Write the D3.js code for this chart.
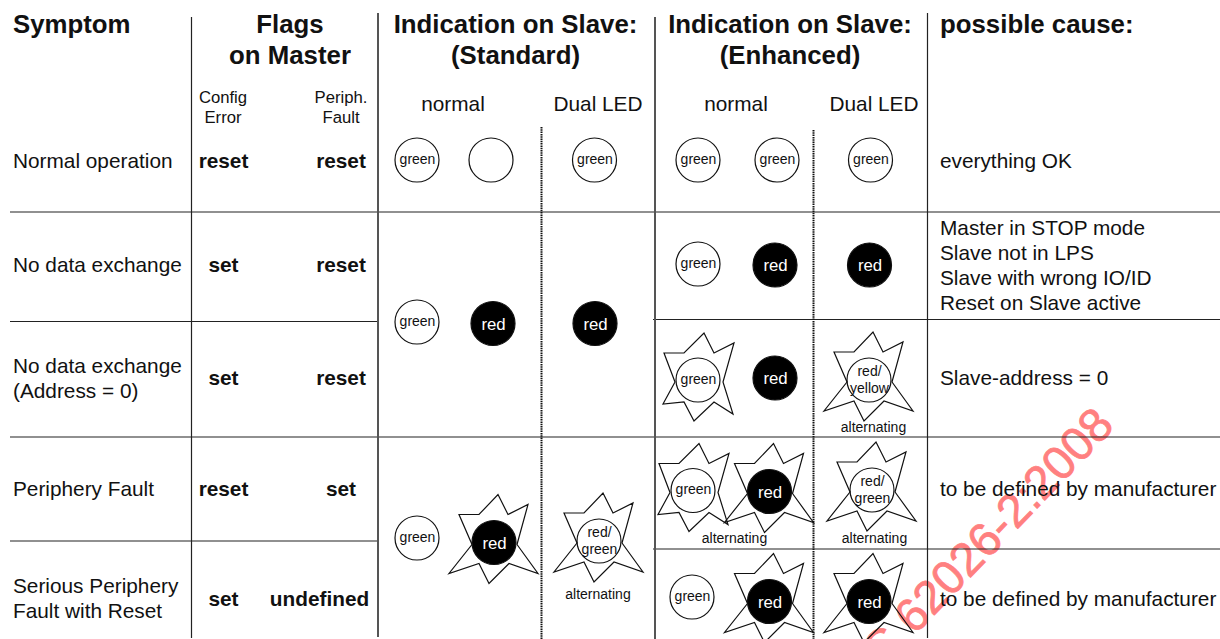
<!DOCTYPE html>
<html>
<head>
<meta charset="utf-8">
<script src="https://d3js.org/d3.v7.min.js"></script>
<style>
    body { margin: 0; background: #fff; }
    text { font-family: "Liberation Sans", Arial, sans-serif; fill: #111; }
</style>
</head>
<body>
<div id="chart"></div>
<script>
// Table content
var rowKeys = ["normal", "noData", "address", "periph", "serious"];
var symptoms = [["Normal operation"], ["No data exchange"], ["No data exchange", "(Address = 0)"], ["Periphery Fault"], ["Serious Periphery", "Fault with Reset"]];
var configFlags = ["reset", "set", "set", "reset", "set"];
var periphFlags = ["reset", "reset", "reset", "set", "undefined"];
var causes = [["everything OK"], ["Master in STOP mode", "Slave not in LPS", "Slave with wrong IO/ID", "Reset on Slave active"], ["Slave-address = 0"], ["to be defined by manufacturer"], ["to be defined by manufacturer"]];

// Column headings
var headKeys = ["flags", "standard", "enhanced"];
var headLines = [["Flags", "on Master"], ["Indication on Slave:", "(Standard)"], ["Indication on Slave:", "(Enhanced)"]];
var subKeys = ["stdNormal", "stdDual", "enhNormal", "enhDual"];
var subLabels = ["normal", "Dual LED", "normal", "Dual LED"];

// LEDs, one entry per lamp
var ledKeys = ["a1", "a2", "a3", "a4", "a5", "a6", "b1", "b2", "b3", "c1", "c2", "c3", "d1", "d2", "d3", "e1", "e2", "e3", "e4", "e5", "e6", "f1", "f2", "f3"];
var ledLabels = ["green", "", "green", "green", "green", "green", "green", "red", "red", "green", "red", "red", "green", "red", "red/yellow", "green", "red", "red/green", "green", "red", "red/green", "green", "red", "red"];
var ledStates = ["off", "off", "off", "off", "off", "off", "off", "on", "on", "off", "on", "on", "off", "on", "off", "off", "on", "off", "off", "on", "off", "off", "on", "on"];
var ledFlash = ["", "", "", "", "", "", "", "", "", "", "", "", "narrow", "", "wide", "", "wide", "wide", "narrow", "wide", "wide", "", "wide", "wide"];

var altKeys = ["std", "yellow", "pair", "dual"];
var altLabels = ["alternating", "alternating", "alternating", "alternating"];
var watermark = "IEC 62026-2:2008";

// Set up SVG params
var svgHgt = 639;
var svgWdt = 1220;

var svg = d3.select("#chart").append("svg")
    .attr("height", svgHgt)
    .attr("width", svgWdt)
    .style("display", "block");

// Scales for the table text
var rowBase = d3.scaleOrdinal().domain(rowKeys).range([168, 272, 385, 496, 606]);
var symptomBase = d3.scaleOrdinal().domain(rowKeys).range([168, 272, 373, 496, 593]);
var causeBase = d3.scaleOrdinal().domain(rowKeys).range([168, 235, 385, 496, 606]);
var periphX = d3.scaleOrdinal().domain(rowKeys).range([341, 341, 341, 341, 319.5]);
var headX = d3.scaleOrdinal().domain(headKeys).range([290, 515.5, 790]);
var subX = d3.scaleOrdinal().domain(subKeys).range([453, 598, 736, 874]);

// Scales for the lamps
var ledX = d3.scaleOrdinal().domain(ledKeys).range([
    417, 491, 594.5, 698, 777, 870.5,
    698, 775, 869.5,
    417, 493, 595,
    698, 775, 869,
    417, 494, 599,
    693, 769.5, 872,
    692, 769.5, 869
]);
var ledY = d3.scaleOrdinal().domain(ledKeys).range([
    160, 160, 160, 160, 160, 160,
    264, 265, 265,
    322, 323.5, 323.5,
    380, 378, 380,
    538, 542.5, 541,
    490.5, 491.5, 490,
    597, 601.5, 601.5
]);
var altX = d3.scaleOrdinal().domain(altKeys).range([598, 873.5, 734.5, 874.5]);
var altY = d3.scaleOrdinal().domain(altKeys).range([598.5, 432, 543, 543]);

// Helper for a block of text lines
function addLines(parent, lines, x, y, step, size, weight, anchor) {
    lines.forEach((line, i) => {
        parent.append("text")
            .attr("x", x)
            .attr("y", y + i * step)
            .attr("font-size", size)
            .attr("font-weight", weight)
            .attr("text-anchor", anchor)
            .text(line);
    });
}

// Watermark sits under the table, the black shows through it
svg.append("text")
    .attr("transform", "translate(1116, 427) rotate(-46)")
    .attr("text-anchor", "end")
    .attr("font-size", 47)
    .style("fill", "#ff8080")
    .attr("stroke", "#ff8080")
    .attr("stroke-width", 0.8)
    .text(watermark);

// Grid lines
var gridGrp = svg.append("g");
var thinLines = [
    [191.5, 17, 191.5, 638], [927.5, 13, 927.5, 638],
    [10, 212, 1220, 212], [10, 321.5, 378, 321.5], [653, 319.5, 1220, 319.5],
    [10, 437, 1220, 437], [10, 541, 378, 541], [653, 549, 1220, 549]
];
var thickLines = [[378, 13, 378, 637], [655, 17, 655, 639]];
var dotLines = [[541.5, 127, 541.5, 639], [813.5, 130, 813.5, 639]];

gridGrp.selectAll(".thin").data(thinLines).enter().append("line")
    .attr("x1", d => d[0]).attr("y1", d => d[1]).attr("x2", d => d[2]).attr("y2", d => d[3])
    .attr("stroke", "#222").attr("stroke-width", 1.2);
gridGrp.selectAll(".thick").data(thickLines).enter().append("line")
    .attr("x1", d => d[0]).attr("y1", d => d[1]).attr("x2", d => d[2]).attr("y2", d => d[3])
    .attr("stroke", "#555").attr("stroke-width", 2);
gridGrp.selectAll(".dot").data(dotLines).enter().append("line")
    .attr("x1", d => d[0]).attr("y1", d => d[1]).attr("x2", d => d[2]).attr("y2", d => d[3])
    .attr("stroke", "#111").attr("stroke-width", 2).attr("stroke-dasharray", "1.5 0.8");

// Headings
var headGrp = svg.append("g");
addLines(headGrp, ["Symptom"], 13, 33, 0, 25.8, "bold", "start");
addLines(headGrp, ["possible cause:"], 940, 33, 0, 25.8, "bold", "start");
headKeys.forEach((k, i) => addLines(headGrp, headLines[i], headX(k), 33, 31, 25.8, "bold", "middle"));
subKeys.forEach((k, i) => addLines(headGrp, [subLabels[i]], subX(k), 111, 0, 20.8, "normal", "middle"));
addLines(headGrp, ["Config", "Error"], 223, 103, 20, 16.7, "normal", "middle");
addLines(headGrp, ["Periph.", "Fault"], 341, 103, 20, 16.7, "normal", "middle");

// Table rows
var rowGrp = svg.append("g");
rowKeys.forEach((k, i) => {
    addLines(rowGrp, symptoms[i], 13, symptomBase(k), 25, 20.8, "normal", "start");
    addLines(rowGrp, [configFlags[i]], 223.5, rowBase(k), 0, 20.8, "bold", "middle");
    addLines(rowGrp, [periphFlags[i]], periphX(k), rowBase(k), 0, 20.8, "bold", "middle");
    addLines(rowGrp, causes[i], 940, causeBase(k), 25, 20.8, "normal", "start");
});

// Flash outlines
var flashLine = d3.line().curve(d3.curveLinearClosed);
var flashShapes = {
    narrow: [[-34, -27], [-14, -27], [6, -47], [16, -27], [36, -37], [25, 2], [35, 34], [16, 22], [-4, 41], [-14, 22], [-35, 24], [-23, 2]],
    wide: [[-35, -28], [-15, -28], [4, -48], [14, -28], [34, -38], [23, 2], [44, 31], [15, 21], [-5, 41], [-15, 21], [-45, 31], [-22, 2]]
};

var leds = ledKeys.map((k, i) => ({key: k, label: ledLabels[i], state: ledStates[i], flash: ledFlash[i]}));

var ledGrp = svg.append("g").selectAll("g").data(leds).enter().append("g")
    .attr("transform", d => `translate(${ledX(d.key)}, ${ledY(d.key)})`);

ledGrp.filter(d => d.flash !== "").append("path")
    .attr("d", d => flashLine(flashShapes[d.flash]))
    .attr("fill", "none")
    .attr("stroke", "#111")
    .attr("stroke-width", 1.2);

ledGrp.append("circle")
    .attr("r", 22)
    .attr("fill", d => d.state === "on" ? "#000" : "none")
    .attr("stroke", "#111")
    .attr("stroke-width", 1.2);

// Lamp labels, two line ones split at the slash
ledGrp.each(function(d) {
    var g = d3.select(this);
    if (d.label === "") return;
    if (d.state === "on") {
        g.append("text").attr("x", 0.5).attr("y", 6).attr("text-anchor", "middle").attr("font-size", 16.8)
            .style("fill", "#fff").text(d.label);
    } else if (d.label.indexOf("/") > 0) {
        var parts = d.label.split("/");
        addLines(g, [parts[0] + "/", parts[1]], 0.5, -4, 16.5, 14, "normal", "middle");
    } else {
        addLines(g, [d.label], 0.5, 3.5, 0, 14, "normal", "middle");
    }
});

// "alternating" captions
var altGrp = svg.append("g");
altKeys.forEach((k, i) => addLines(altGrp, [altLabels[i]], altX(k), altY(k), 0, 14, "normal", "middle"));
</script>
</body>
</html>
